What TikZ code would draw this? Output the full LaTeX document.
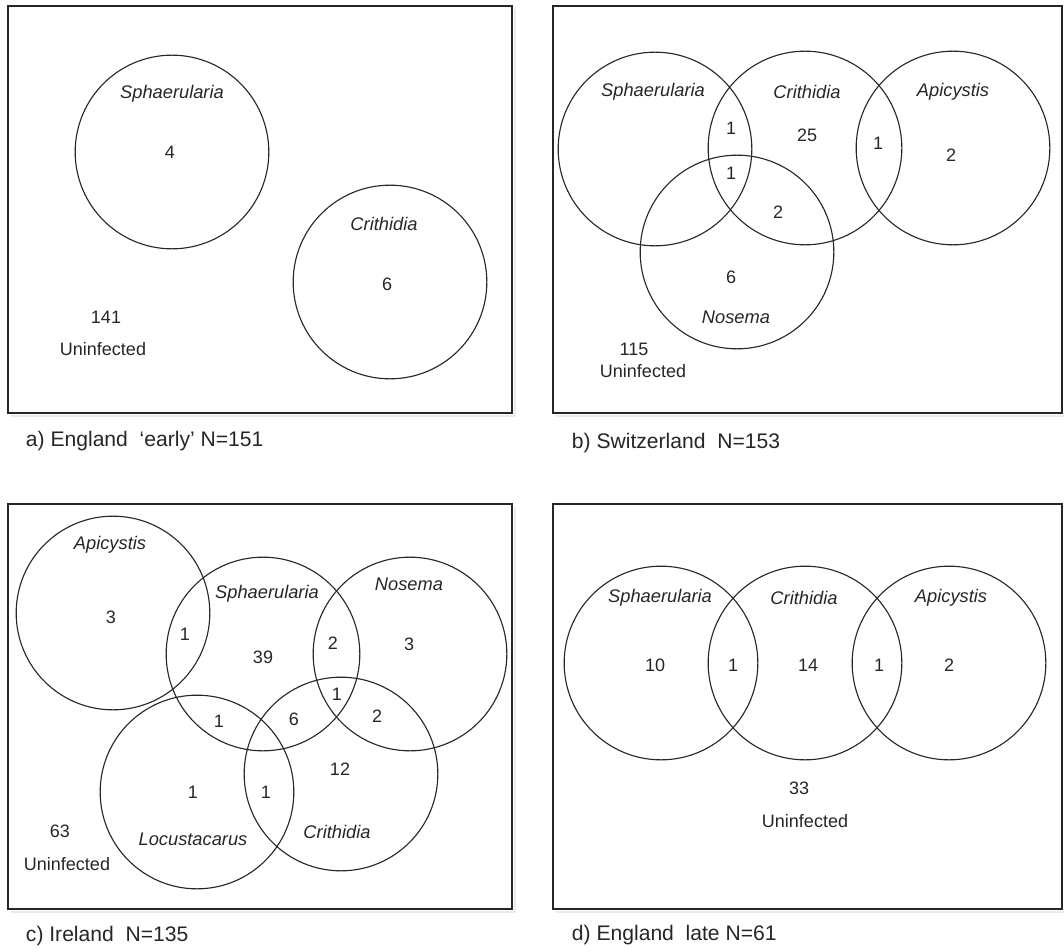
\documentclass[tikz,border=0pt]{standalone}
\usepackage{fontspec}
\setmainfont{Liberation Sans}
\usetikzlibrary{positioning}

\begin{document}
\begin{tikzpicture}[x=0.025cm,y=-0.025cm,
    panel/.style={draw=black!85,line width=1pt},
    shade/.style={draw=black!8,line width=2pt},
    venn/.style={draw=black!85,circle,line width=0.8pt,minimum size=4.84cm,inner sep=0pt},
    taxon/.style={text=black!85,font=\fontsize{13}{15}\selectfont\itshape},
    num/.style={text=black!85,font=\fontsize{12.8}{15}\selectfont},
    panelcap/.style={text=black!85,font=\fontsize{15}{18}\selectfont,anchor=west}]

    \useasboundingbox (0,0) rectangle (1064,952);

    % a) England early
    \draw[shade] (11,416) -- (515,416) -- (515,9);
    \draw[panel] (8,6) rectangle (512,413);
    \node[venn] (aS) at (172,152) {};
    \node[venn] (aC) at (390,282) {};
    \node[taxon] (aSl) at (172,94) {Sphaerularia};
    \node[num] (aSn) at (170,152) {4};
    \node[taxon] (aCl) at (384,224) {Crithidia};
    \node[num] (aCn) at (387,284) {6};
    \node[num] (aU) at (106,317) {141};
    \node[num] (aUl) at (103,349) {Uninfected};
    \node[panelcap] (acap) at (21,441) {a) England~ ‘early’ N=151};

    % b) Switzerland
    \draw[shade] (556,416) -- (1064,416);
    \draw[panel] (553,6) rectangle (1062,413);
    \node[venn] (bS) at (655,149) {};
    \node[venn] (bC) at (805,148) {};
    \node[venn] (bA) at (953,148) {};
    \node[venn] (bN) at (737,252) {};
    \node[taxon] (bSl) at (653,92) {Sphaerularia};
    \node[taxon] (bCl) at (807,92) {Crithidia};
    \node[taxon] (bAl) at (953,92) {Apicystis};
    \node[num] (bSC) at (731,128) {1};
    \node[num] (bCn) at (807,135) {25};
    \node[num] (bCA) at (878,143) {1};
    \node[num] (bAn) at (951,155) {2};
    \node[num] (bSCN) at (731,173) {1};
    \node[num] (bCN) at (778,212) {2};
    \node[num] (bNn) at (731,277) {6};
    \node[taxon] (bNl) at (736,317) {Nosema};
    \node[num] (bU) at (634,349) {115};
    \node[num] (bUl) at (643,371) {Uninfected};
    \node[panelcap] (bcap) at (567,443) {b) Switzerland~ N=153};

    % c) Ireland
    \draw[shade] (11,912) -- (515,912) -- (515,507);
    \draw[panel] (8,504) rectangle (512,909);
    \node[venn] (cA) at (113,613) {};
    \node[venn] (cS) at (263,654) {};
    \node[venn] (cN) at (410,654) {};
    \node[venn] (cL) at (197,792) {};
    \node[venn] (cC) at (341,774) {};
    \node[taxon] (cAl) at (110,545) {Apicystis};
    \node[num] (cAn) at (111,617) {3};
    \node[num] (cAS) at (185,634) {1};
    \node[taxon] (cSl) at (267,594) {Sphaerularia};
    \node[num] (cSn) at (263,657) {39};
    \node[num] (cSN) at (333,643) {2};
    \node[taxon] (cNl) at (409,584) {Nosema};
    \node[num] (cNn) at (409,644) {3};
    \node[num] (cSNC) at (337,694) {1};
    \node[num] (cSL) at (219,721) {1};
    \node[num] (cSC) at (294,719) {6};
    \node[num] (cNC) at (377,716) {2};
    \node[num] (cCn) at (340,769) {12};
    \node[num] (cLn) at (193,792) {1};
    \node[num] (cLC) at (266,792) {1};
    \node[taxon] (cLl) at (193,839) {Locustacarus};
    \node[taxon] (cCl) at (337,832) {Crithidia};
    \node[num] (cU) at (60,831) {63};
    \node[num] (cUl) at (67,864) {Uninfected};
    \node[panelcap] (ccap) at (21,936) {c) Ireland~ N=135};

    % d) England late
    \draw[shade] (556,912) -- (1064,912);
    \draw[panel] (553,504) rectangle (1062,909);
    \node[venn] (dS) at (661,663) {};
    \node[venn] (dC) at (805,663) {};
    \node[venn] (dA) at (949,663) {};
    \node[taxon] (dSl) at (660,598) {Sphaerularia};
    \node[taxon] (dCl) at (804,598) {Crithidia};
    \node[taxon] (dAl) at (951,598) {Apicystis};
    \node[num] (dSn) at (655,665) {10};
    \node[num] (dSC) at (733,665) {1};
    \node[num] (dCn) at (808,665) {14};
    \node[num] (dCA) at (879,665) {1};
    \node[num] (dAn) at (949,665) {2};
    \node[num] (dU) at (799,788) {33};
    \node[num] (dUl) at (805,821) {Uninfected};
    \node[panelcap] (dcap) at (567,935) {d) England~ late N=61};

\end{tikzpicture}
\end{document}
